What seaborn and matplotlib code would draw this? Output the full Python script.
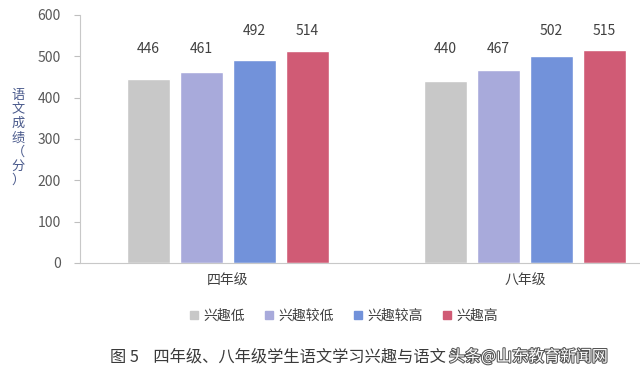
import matplotlib
matplotlib.use("Agg")
import matplotlib.pyplot as plt
import matplotlib.patheffects as pe
from matplotlib.lines import Line2D
import seaborn as sns
import pandas as pd

grades = ["四年级", "八年级"]
levels = ["兴趣低", "兴趣较低", "兴趣较高", "兴趣高"]
scores_g4 = [446, 461, 492, 514]
scores_g8 = [440, 467, 502, 515]
colors = ["#c8c8c8", "#a8aadb", "#7292da", "#d05b75"]
yticks = [0, 100, 200, 300, 400, 500, 600]

rows = []
for g, vals in zip(grades, [scores_g4, scores_g8]):
    for lv, v in zip(levels, vals):
        rows.append({"grade": g, "level": lv, "score": v})
df = pd.DataFrame(rows)

sns.set_theme(style="white")
plt.rcParams["font.family"] = ["Noto Sans CJK SC", "DejaVu Sans"]

fig = plt.figure(figsize=(6.4, 3.79), dpi=100)
ax = fig.add_axes([80 / 640, 1 - 263 / 379, 1 - 80 / 640, (263 - 15) / 379])

sns.barplot(data=df, x="grade", y="score", hue="level", order=grades,
            hue_order=levels, palette=colors, width=0.714, gap=0.19,
            saturation=1, legend=False, ax=ax, errorbar=None)

ax.set_ylim(0, 600)
ax.set_xlim(-0.498, 1.387)
ax.set_yticks(yticks)
ax.set_yticklabels([str(t) for t in yticks], color="#595959", fontsize=10)
ax.tick_params(axis="y", which="both", left=True, length=4, width=0.8,
               color="#bfbfbf", pad=10)
ax.tick_params(axis="x", length=0, pad=8, labelsize=10, labelcolor="#404040")
for s in ["top", "right"]:
    ax.spines[s].set_visible(False)
for s in ["left", "bottom"]:
    ax.spines[s].set_color("#c8c8c8")
    ax.spines[s].set_linewidth(0.8)
ax.set_xlabel("")
ax.set_ylabel("")

# value labels
for cont in ax.containers:
    for bar in cont:
        v = bar.get_height()
        ly = 518 if v < 480 else 561
        ax.text(bar.get_x() + bar.get_width() / 2, ly, f"{int(round(v))}",
                ha="center", va="center", fontsize=10, color="#404040")

# y label stacked vertically
fig.text(18 / 640, 1 - 138 / 379, "\n".join("语文成绩（分）"), ha="center",
         va="center", fontsize=9.5, color="#4a5a8c", linespacing=1.12)

handles = [Line2D([0], [0], marker="s", linestyle="none", markersize=6,
                  markerfacecolor=c, markeredgecolor=c) for c in colors]
fig.legend(handles, levels, loc="center", bbox_to_anchor=(344 / 640, 1 - 316 / 379),
           ncol=4, frameon=False, handlelength=0.6, handletextpad=0.4,
           columnspacing=1.4, fontsize=10, labelcolor="#404040")

fig.text(110 / 640, 1 - 357 / 379,
         "图 5    四年级、八年级学生语文学习兴趣与语文",
         ha="left", va="center", fontsize=11.7, color="#3a3a3a")
fig.text(449 / 640, 1 - 357 / 379, "头条@山东教育新闻网", ha="left",
         va="center", fontsize=11.5, color="white",
         path_effects=[pe.withStroke(linewidth=1.5, foreground="#555555")])

fig.savefig("out.png", dpi=100)
